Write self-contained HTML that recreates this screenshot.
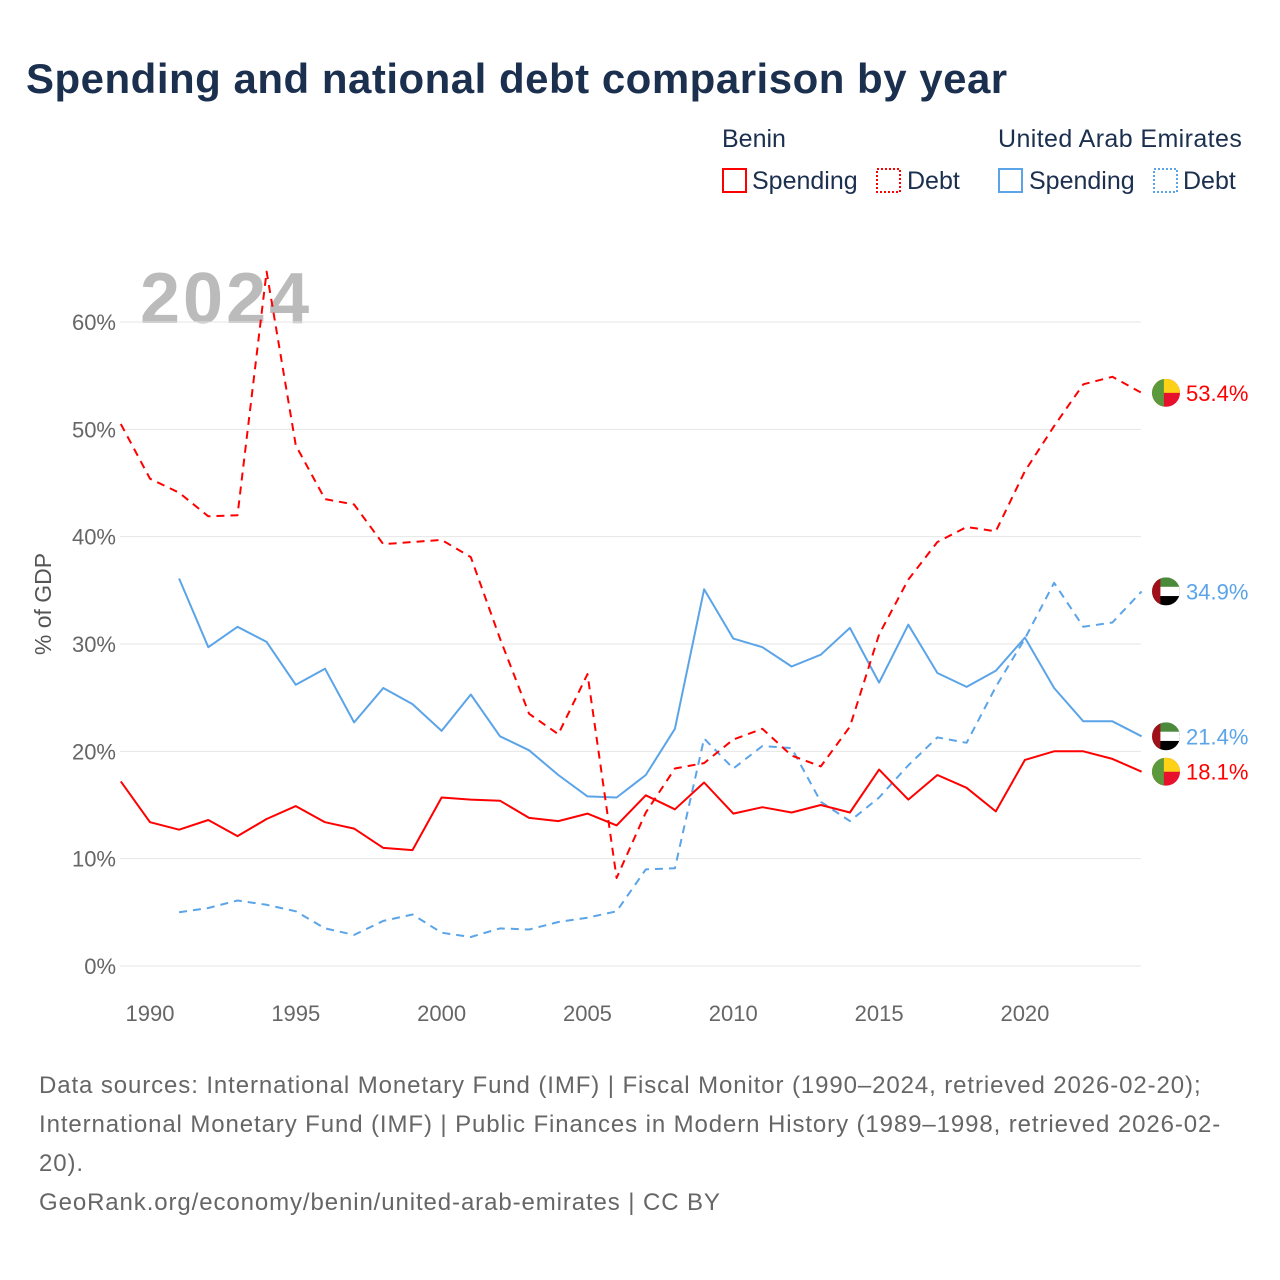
<!DOCTYPE html>
<html><head><meta charset="utf-8"><style>
body{margin:0;background:#fff;font-family:"Liberation Sans",sans-serif;}
#wrap{position:relative;width:1280px;height:1280px;overflow:hidden;}
</style></head><body>
<div id="wrap">
<svg id="svg" width="1280" height="1280" xmlns="http://www.w3.org/2000/svg">
<text x="26" y="93" font-size="42" font-weight="bold" fill="#1b2f4e" letter-spacing="0.5">Spending and national debt comparison by year</text>
<g font-size="25" fill="#1b2f4e">
<text x="722" y="147">Benin</text>
<text x="998" y="147" letter-spacing="0.4">United Arab Emirates</text>
<g><rect x="723" y="169" width="23" height="23" fill="none" stroke="#f00" stroke-width="2"/><text x="752" y="189">Spending</text></g>
<g><rect x="877" y="169" width="23" height="23" fill="none" stroke="#f00" stroke-width="2" stroke-dasharray="2,2"/><text x="907" y="189">Debt</text></g>
<g><rect x="999" y="169" width="23" height="23" fill="none" stroke="#5ba4e8" stroke-width="2"/><text x="1029" y="189">Spending</text></g>
<g><rect x="1154" y="169" width="23" height="23" fill="none" stroke="#5ba4e8" stroke-width="2" stroke-dasharray="2,2"/><text x="1183" y="189">Debt</text></g>
</g>
<text x="140" y="323" font-size="72" font-weight="bold" fill="#bbb" letter-spacing="3">2024</text>
<g id="grid"></g><g id="series"></g><g id="ends"></g>
<text transform="translate(51,604) rotate(-90)" text-anchor="middle" font-size="23" fill="#555">% of GDP</text>
<g font-size="24" fill="#666" letter-spacing="0.9">
<text x="39" y="1093">Data sources: International Monetary Fund (IMF) | Fiscal Monitor (1990–2024, retrieved 2026-02-20);</text>
<text x="39" y="1132">International Monetary Fund (IMF) | Public Finances in Modern History (1989–1998, retrieved 2026-02-</text>
<text x="39" y="1171">20).</text>
<text x="39" y="1210">GeoRank.org/economy/benin/united-arab-emirates | CC BY</text>
</g>
</svg></div>
<script>
const yTicks=[0,10,20,30,40,50,60];
const xTicks=[1990,1995,2000,2005,2010,2015,2020];
const beninYears=[1989,1990,1991,1992,1993,1994,1995,1996,1997,1998,1999,2000,2001,2002,2003,2004,2005,2006,2007,2008,2009,2010,2011,2012,2013,2014,2015,2016,2017,2018,2019,2020,2021,2022,2023,2024];
const beninDebt=[50.5,45.4,44.1,41.9,42.0,64.7,48.5,43.5,43.0,39.3,39.5,39.7,38.1,30.5,23.5,21.6,27.2,8.2,14.3,18.4,18.9,21.1,22.1,19.6,18.6,22.3,30.9,36.0,39.5,40.9,40.5,46.1,50.3,54.2,54.9,53.4];
const beninSpending=[17.2,13.4,12.7,13.6,12.1,13.7,14.9,13.4,12.8,11.0,10.8,15.7,15.5,15.4,13.8,13.5,14.2,13.1,15.9,14.6,17.1,14.2,14.8,14.3,15.0,14.3,18.3,15.5,17.8,16.6,14.4,19.2,20.0,20.0,19.3,18.1];
const uaeYears=[1991,1992,1993,1994,1995,1996,1997,1998,1999,2000,2001,2002,2003,2004,2005,2006,2007,2008,2009,2010,2011,2012,2013,2014,2015,2016,2017,2018,2019,2020,2021,2022,2023,2024];
const uaeSpending=[36.1,29.7,31.6,30.2,26.2,27.7,22.7,25.9,24.4,21.9,25.3,21.4,20.1,17.8,15.8,15.7,17.8,22.1,35.1,30.5,29.7,27.9,29.0,31.5,26.4,31.8,27.3,26.0,27.5,30.6,25.9,22.8,22.8,21.4];
const uaeDebt=[5.0,5.4,6.1,5.7,5.1,3.5,2.9,4.2,4.8,3.1,2.7,3.5,3.4,4.1,4.5,5.1,9.0,9.1,21.2,18.4,20.5,20.3,15.3,13.5,15.7,18.7,21.3,20.8,26.0,30.5,35.7,31.6,32.0,34.9];
const NS='http://www.w3.org/2000/svg';
const X=y=>120.8+(y-1989)*(1141.6-120.8)/35;
const Y=v=>966-v*10.733;
function mk(t,a,p){const e=document.createElementNS(NS,t);for(const k in a)e.setAttribute(k,a[k]);p.appendChild(e);return e;}
const grid=document.getElementById('grid');
yTicks.forEach(v=>{
 const l=mk('line',{x1:120,x2:1141,y1:Y(v),y2:Y(v),stroke:'#e6e6e6','stroke-width':1},grid);
 
 
 const t=mk('text',{x:116,y:Y(v)+8,'text-anchor':'end','font-size':22,fill:'#666'},grid);
 t.textContent=v+'%';
 
 
});
xTicks.forEach(y=>{
 const t=mk('text',{x:X(y),y:1021,'text-anchor':'middle','font-size':22,fill:'#666'},grid);
 t.textContent=y;
 
 
});
const ser=document.getElementById('series');
function line(xs,vs,color,dash,name){
 const d=xs.map((x,i)=>(i?'L':'M')+X(x).toFixed(1)+','+Y(vs[i]).toFixed(1)).join('');
 const p=mk('path',{d:d,fill:'none',stroke:color,'stroke-width':2,'stroke-dasharray':dash||'none','stroke-linejoin':'round'},ser);
 
 
}
line(uaeYears,uaeDebt,'#5ba4e8','8,6','line-uae-debt');
line(uaeYears,uaeSpending,'#5ba4e8','','line-uae-spending');
line(beninYears,beninDebt,'#f00','8,6','line-benin-debt');
line(beninYears,beninSpending,'#f00','','line-benin-spending');
const ends=document.getElementById('ends');
function flag(cy,type,val,color,name){
 const g=mk('g',{},ends);
 
 
 const cx=1166,r=14;
 const id='c'+name;
 const cp=mk('clipPath',{id:id},g);mk('circle',{cx:cx,cy:cy,r:r},cp);
 const f=mk('g',{'clip-path':'url(#'+id+')'},g);
 if(type==='benin'){
  mk('rect',{x:cx-r,y:cy-r,width:2*r,height:2*r,fill:'#e8112d'},f);
  mk('rect',{x:cx-r,y:cy-r,width:2*r,height:r,fill:'#fcd116'},f);
  mk('rect',{x:cx-r,y:cy-r,width:r*0.85,height:2*r,fill:'#5a9a3c'},f);
 }else{
  mk('rect',{x:cx-r,y:cy-r,width:2*r,height:2*r,fill:'#000'},f);
  mk('rect',{x:cx-r,y:cy-r,width:2*r,height:r*1.33,fill:'#fff'},f);
  mk('rect',{x:cx-r,y:cy-r,width:2*r,height:r*0.67,fill:'#4a8a3a'},f);
  mk('rect',{x:cx-r,y:cy-r,width:r*0.6,height:2*r,fill:'#a0101a'},f);
 }
 const t=mk('text',{x:1186,y:cy+8,'font-size':22,fill:color},g);t.textContent=val.toFixed(1)+'%';
}
flag(Y(beninDebt[beninDebt.length-1]),'benin',beninDebt[beninDebt.length-1],'#f00','end-label-benin-debt');
flag(Y(uaeDebt[uaeDebt.length-1]),'uae',uaeDebt[uaeDebt.length-1],'#5ba4e8','end-label-uae-debt');
flag(Y(uaeSpending[uaeSpending.length-1]),'uae',uaeSpending[uaeSpending.length-1],'#5ba4e8','end-label-uae-spending');
flag(Y(beninSpending[beninSpending.length-1]),'benin',beninSpending[beninSpending.length-1],'#f00','end-label-benin-spending');
</script>
</body></html>
